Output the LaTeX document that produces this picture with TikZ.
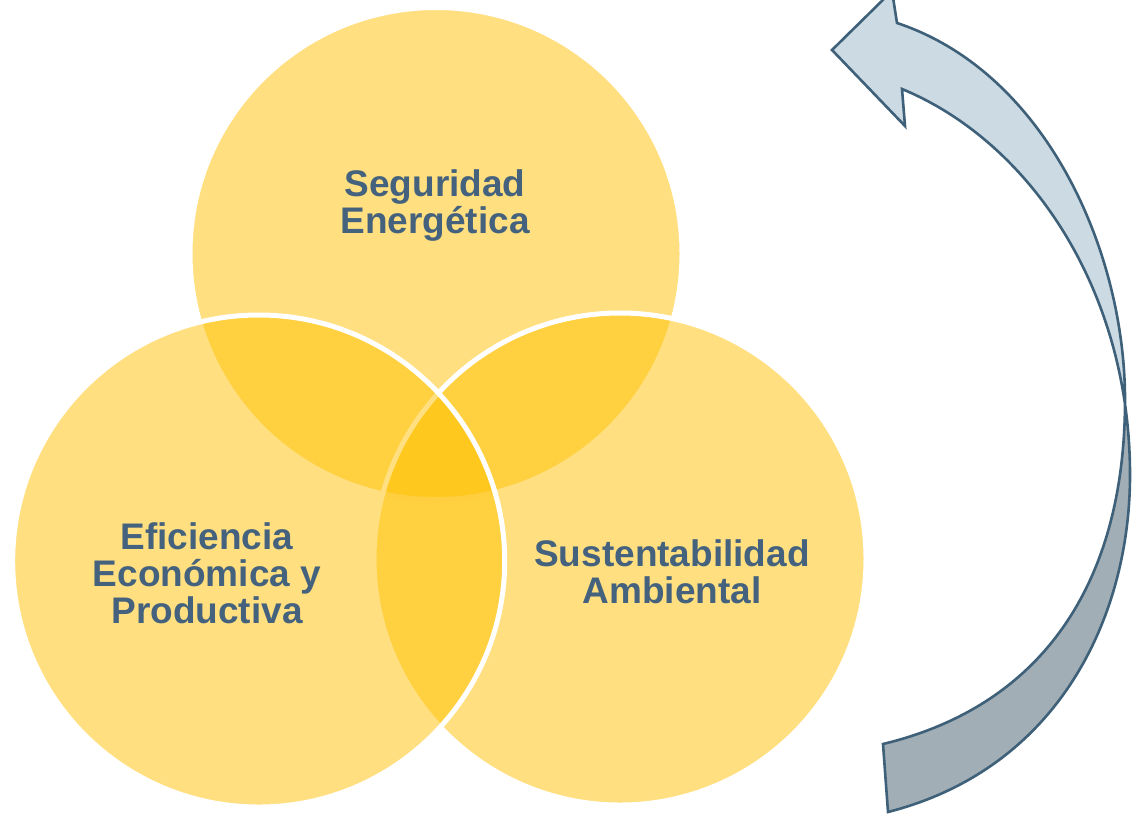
\documentclass[tikz,border=0pt]{standalone}
\usepackage{fontspec}
\setmainfont{Liberation Sans}
\usetikzlibrary{positioning}
\definecolor{ringfill}{HTML}{FFC000}
\definecolor{txtblue}{RGB}{68,98,125}
\definecolor{arrline}{RGB}{62,96,121}
\definecolor{arrfront}{RGB}{203,218,227}
\definecolor{arrback}{RGB}{161,174,181}
\tikzstyle{ring}=[circle, draw=white, line width=2.5pt, fill=ringfill,
                  fill opacity=0.5, inner sep=0pt, minimum size=246pt]
\tikzstyle{lbl}=[text=txtblue, font=\fontsize{18.5}{18.5}\selectfont\bfseries,
                 align=center, inner sep=0pt]
\tikzstyle{aline}=[draw=arrline, line width=1.3pt, line join=miter]

\begin{document}
\begin{tikzpicture}[x=0.5pt, y=-0.5pt]
\useasboundingbox (0,0) rectangle (1134,814);
\clip (0,0) rectangle (1134,814);

\node (SEG) [ring] at (436,253.5) {};
\node (SUS) [ring] at (620,559) {};
\node (EFI) [ring] at (258.7,561) {};

\node (SEGT) [lbl] at (435,205.5) {Seguridad\\Energética};
\node (EFIT) [lbl] at (207,573.5) {Eficiencia\\Económica y\\Productiva};
\node (SUST) [lbl] at (672,572) {Sustentabilidad\\Ambiental};

% curved arrow
\path[save path=\bendarrow]
  (883,744) .. controls (1045,705) and (1125,580) .. (1125,400)
  .. controls (1125,250) and (1045,72) .. (897,23)
  -- (892,-9) -- (832,50) -- (905,126) -- (902,89)
  .. controls (1030,142) and (1130,290) .. (1130,475)
  .. controls (1130,615) and (1060,768) .. (888,812) -- cycle;
\fill[arrfront, use path=\bendarrow];
\begin{scope}
  \clip (0,392) rectangle (1134,814);
  \fill[arrback, use path=\bendarrow];
\end{scope}
\draw[aline, use path=\bendarrow];

\end{tikzpicture}
\end{document}
